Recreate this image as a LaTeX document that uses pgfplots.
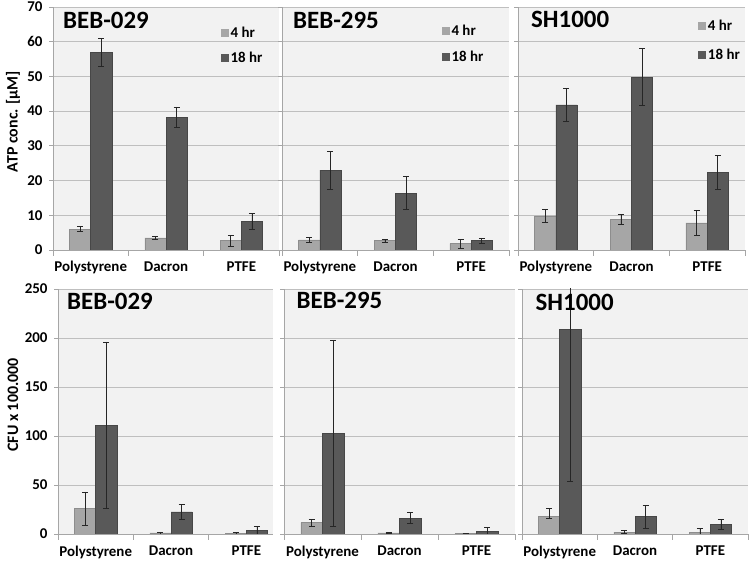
\documentclass[border=0pt]{standalone}
\usepackage{pgfplots}
\pgfplotsset{compat=1.18}
\usepackage{fontspec}
\setmainfont{Carlito}
\definecolor{lightbar}{HTML}{A6A6A6}
\definecolor{darkbar}{HTML}{595959}
\definecolor{bg}{HTML}{F2F2F2}
\definecolor{gridc}{HTML}{BFBFBF}
\definecolor{axc}{HTML}{A6A6A6}
\pgfplotsset{
 panel/.style={
  scale only axis, ybar=0pt, bar width=0.28,
  xmin=-0.5, xmax=2.5, ymin=0,
  axis background/.style={fill=bg},
  axis x line*=bottom, axis y line*=left,
  axis line style={draw=axc, line width=0.8pt},
  xtick={0,1,2}, xticklabels={Polystyrene,Dacron,PTFE},
  major x tick style={draw=none},
  minor xtick={-0.5,0.5,1.5,2.5},
  minor tick length=6bp, major tick length=4bp,
  tick align=outside,
  tick style={draw=axc, line width=0.8pt},
  ymajorgrids, grid style={draw=gridc, line width=0.8pt},
  /pgf/number format/assume math mode=true,
  ticklabel style={font=\bfseries\fontsize{15}{17}\selectfont},
  xticklabel style={yshift=-4bp},
  yticklabel style={xshift=-3bp},
  legend style={draw=none, fill=none, font=\bfseries\fontsize{15}{17}\selectfont,
    row sep=9bp, cells={anchor=west}},
  legend image code/.code={\fill[#1,draw=none] (0bp,-4bp) rectangle (8bp,4bp);},
 },
 top/.style={panel, height=243bp, ymax=70, ytick distance=10},
 bot/.style={panel, height=245bp, ymax=250, ytick distance=50},
 b4/.style={fill=lightbar, draw=lightbar!85!black, line width=0.5pt,
   error bars/.cd, y dir=both, y explicit,
   error bar style={line width=0.6pt, black!85},
   error mark options={rotate=90, mark size=3bp, line width=0.6pt, black!85}},
 b18/.style={fill=darkbar, draw=darkbar!80!black, line width=0.5pt,
   error bars/.cd, y dir=both, y explicit,
   error bar style={line width=0.6pt, black!85},
   error mark options={rotate=90, mark size=3bp, line width=0.6pt, black!85}},
}
\begin{document}
\begin{tikzpicture}[x=1bp,y=1bp]
\useasboundingbox (0,0) rectangle (751,563);
% ---------- top row (ATP) ----------
\begin{axis}[top, name=t1, at={(53bp,313bp)}, anchor=south west, width=226bp,
  legend style={at={(0.95,0.935)}, anchor=north east}]
\addplot[b4] coordinates {(0,6) +- (0,0.7) (1,3.5) +- (0,0.5) (2,2.7) +- (0,1.6)};
\addplot[b18] coordinates {(0,57) +- (0,4) (1,38.2) +- (0,3) (2,8.3) +- (0,2.2)};
\legend{4 hr,18 hr}
\end{axis}
\begin{axis}[top, name=t2, at={(282bp,313bp)}, anchor=south west, width=227bp,
  yticklabels={}, legend style={at={(0.91,0.945)}, anchor=north east, row sep=11bp}]
\addplot[b4] coordinates {(0,2.9) +- (0,0.8) (1,2.7) +- (0,0.4) (2,1.8) +- (0,1.2)};
\addplot[b18] coordinates {(0,23) +- (0,5.4) (1,16.4) +- (0,4.7) (2,2.7) +- (0,0.8)};
\legend{4 hr,18 hr}
\end{axis}
\begin{axis}[top, name=t3, at={(518bp,313bp)}, anchor=south west, width=227bp,
  yticklabels={}, legend style={at={(1.0,0.963)}, anchor=north east, row sep=13bp}]
\addplot[b4] coordinates {(0,9.8) +- (0,1.8) (1,8.8) +- (0,1.4) (2,7.8) +- (0,3.5)};
\addplot[b18] coordinates {(0,41.8) +- (0,4.8) (1,49.8) +- (0,8.2) (2,22.4) +- (0,4.8)};
\legend{4 hr,18 hr}
\end{axis}
% ---------- bottom row (CFU) ----------
\begin{axis}[bot, name=b1, at={(58bp,29bp)}, anchor=south west, width=215bp, xmax=2.353]
\addplot[b4] coordinates {(0,26) +- (0,17) (1,1.2) +- (0,1) (2,0.5) +- (0,0.8)};
\addplot[b18] coordinates {(0,111) +- (0,85) (1,22.5) +- (0,7.3) (2,3.5) +- (0,4.5)};
\end{axis}
\begin{axis}[bot, name=b2, at={(284bp,29bp)}, anchor=south west, width=231bp, yticklabels={}]
\addplot[b4] coordinates {(0,11.5) +- (0,3.8) (1,1.2) +- (0,0.5) (2,0.5) +- (0,0.3)};
\addplot[b18] coordinates {(0,102.5) +- (0,95) (1,16.3) +- (0,5.8) (2,2.7) +- (0,4)};
\end{axis}
\begin{axis}[bot, name=b3, at={(522bp,29bp)}, anchor=south west, width=226bp, yticklabels={}]
\addplot[b4] coordinates {(0,17.7) += (0,8.1) -= (0,1.4) (1,2) +- (0,1.5) (2,2) +- (0,3.5)};
\addplot[b18] coordinates {(0,209) +- (0,155) (1,17.7) +- (0,11.6) (2,9.8) +- (0,5)};
\end{axis}
% ---------- labels ----------
\node[rotate=90, font=\bfseries\fontsize{16}{18}\selectfont] at ([xshift=-40bp,yshift=7bp]t1.west) {ATP conc. [µM]};
\node[rotate=90, font=\bfseries\fontsize{16}{18}\selectfont] at ([xshift=-45bp,yshift=6.5bp]b1.west) {CFU x 100.000};
\tikzset{ttl/.style={anchor=base west, inner sep=0pt, font=\bfseries\fontsize{25}{30}\selectfont}}
\node[ttl] at ([shift={(10bp,-22bp)}]t1.north west) {BEB-029};
\node[ttl] at ([shift={(11bp,-22bp)}]t2.north west) {BEB-295};
\node[ttl] at ([shift={(13bp,-21bp)}]t3.north west) {SH1000};
\node[ttl] at ([shift={(9bp,-21bp)}]b1.north west) {BEB-029};
\node[ttl] at ([shift={(12.5bp,-20bp)}]b2.north west) {BEB-295};
\node[ttl] at ([shift={(13.5bp,-22bp)}]b3.north west) {SH1000};
\end{tikzpicture}
\end{document}
